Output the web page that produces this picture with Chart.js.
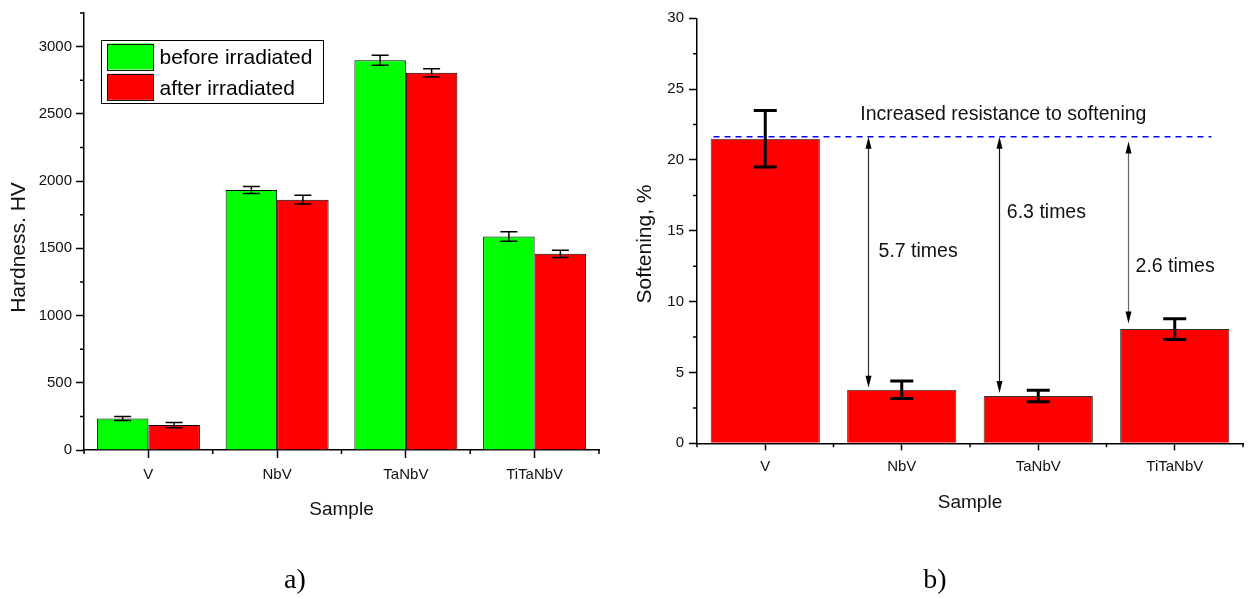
<!DOCTYPE html>
<html><head><meta charset="utf-8">
<script src="https://cdn.jsdelivr.net/npm/chart.js@4"></script>
<style>
html,body{margin:0;padding:0;background:#fff;overflow:hidden}
#wrapA{position:absolute;left:0;top:0;width:625px;height:599px}
#wrapB{position:absolute;left:625px;top:0;width:626px;height:599px}
</style></head><body>
<div id="wrapA"><canvas id="cA" width="625" height="599"></canvas></div>
<div id="wrapB"><canvas id="cB" width="626" height="599"></canvas></div>
<script>
// ---------- data ----------
const categories = ['V', 'NbV', 'TaNbV', 'TiTaNbV'];
const hardnessBefore = [235, 1933, 2899, 1588];
const hardnessBeforeErr = [15, 26, 37, 36];
const hardnessAfter = [185, 1862, 2805, 1459];
const hardnessAfterErr = [20, 33, 31, 27];
const hardnessTicks = [0, 500, 1000, 1500, 2000, 2500, 3000];
const softening = [21.5, 3.78, 3.34, 8.06];
const softeningErr = [2.0, 0.61, 0.41, 0.74];
const softeningTicks = [0, 5, 10, 15, 20, 25, 30];
const resistanceLevel = 21.64;
const ratioLabels = ['5.7 times', '6.3 times', '2.6 times'];
const seriesNames = ['before irradiated', 'after irradiated'];

// annotation placement (in data units: category index, value)
const arrowCat = [0.752, 1.709, 2.661];
const arrowTopVal = [21.64, 21.64, 21.3];
const arrowBotVal = [3.92, 3.55, 8.45];
const ratioTextCat = [0.830, 1.770, 2.713];
const ratioTextVal = [13.14, 15.92, 12.08];

const FONT = "'Liberation Sans', Arial, sans-serif";
Chart.defaults.font.family = FONT;
Chart.defaults.color = '#111';

function axisCommon(tickLen, pad, size) {
  return {
    border: { display: true, color: '#000', width: 1.5 },
    grid: { display: true, drawOnChartArea: false, drawTicks: true, tickLength: tickLen, tickColor: '#000', tickWidth: 1.5, offset: false },
    ticks: { padding: pad, font: { size: size }, color: '#111' }
  };
}
function fixedTicks(list) {
  return s => { s.ticks = list.map(v => ({ value: v })); };
}

const minorTicksPlugin = {
  id: 'minorTicks',
  afterDraw(chart, args, opts) {
    const ctx = chart.ctx, x = chart.scales.x, y = chart.scales.y;
    ctx.save();
    ctx.strokeStyle = '#000'; ctx.lineWidth = 1.5;
    ctx.beginPath();
    for (let v = y.min; v <= y.max + 1e-9; v += opts.yMinor) {
      const r = v / opts.yMajor;
      if (Math.abs(r - Math.round(r)) < 1e-6) continue;
      const py = y.getPixelForValue(v);
      ctx.moveTo(y.right - opts.len, py); ctx.lineTo(y.right, py);
    }
    for (let i = -0.5; i <= categories.length - 0.5 + 1e-9; i += 1) {
      const px = x.getPixelForValue(i);
      ctx.moveTo(px, x.top); ctx.lineTo(px, x.top + opts.len);
    }
    ctx.stroke();
    ctx.restore();
  }
};

const errorBarsPlugin = {
  id: 'errorBars',
  afterDatasetsDraw(chart, args, opts) {
    const ctx = chart.ctx, y = chart.scales.y;
    ctx.save();
    ctx.strokeStyle = '#000'; ctx.lineWidth = opts.width;
    chart.data.datasets.forEach((ds, di) => {
      const meta = chart.getDatasetMeta(di);
      meta.data.forEach((bar, i) => {
        const v = ds.data[i], e = ds.errors[i];
        const t = y.getPixelForValue(v + e), b = y.getPixelForValue(v - e);
        const h = opts.cap / 2;
        ctx.beginPath();
        ctx.moveTo(bar.x, t); ctx.lineTo(bar.x, b);
        ctx.moveTo(bar.x - h, t); ctx.lineTo(bar.x + h, t);
        ctx.moveTo(bar.x - h, b); ctx.lineTo(bar.x + h, b);
        ctx.stroke();
      });
    });
    ctx.restore();
  }
};

const titlesPlugin = {
  id: 'titles',
  afterDraw(chart, args, opts) {
    const ctx = chart.ctx;
    ctx.save();
    ctx.fillStyle = '#111';
    ctx.textAlign = 'center'; ctx.textBaseline = 'middle';
    ctx.font = opts.xSize + 'px ' + FONT;
    ctx.fillText(opts.xText, opts.xPos[0], opts.xPos[1]);
    ctx.save();
    ctx.translate(opts.yPos[0], opts.yPos[1]);
    ctx.rotate(-Math.PI / 2);
    ctx.font = opts.ySize + 'px ' + FONT;
    ctx.fillText(opts.yText, 0, 0);
    ctx.restore();
    ctx.fillStyle = '#000';
    ctx.font = "28px 'Liberation Serif', 'Times New Roman', serif";
    ctx.fillText(opts.panel, opts.panelPos[0], opts.panelPos[1]);
    ctx.restore();
  }
};

const boxLegendPlugin = {
  id: 'boxLegend',
  afterDraw(chart) {
    const ctx = chart.ctx, ca = chart.chartArea;
    const bx = ca.left + 16.5, by = ca.top + 26.5, bw = 222, bh = 63;
    ctx.save();
    ctx.fillStyle = '#fff';
    ctx.fillRect(bx, by, bw, bh);
    ctx.strokeStyle = '#000'; ctx.lineWidth = 1;
    ctx.strokeRect(Math.round(bx) + 0.5, Math.round(by) + 0.5, bw, bh);
    ctx.font = '21px ' + FONT;
    ctx.textAlign = 'left'; ctx.textBaseline = 'alphabetic';
    chart.data.datasets.forEach((ds, k) => {
      const sy = by + 4 + k * 30.3;
      ctx.fillStyle = ds.backgroundColor;
      ctx.fillRect(bx + 6.5, sy, 46, 26);
      ctx.strokeStyle = '#111';
      ctx.strokeRect(Math.round(bx + 6.5) + 0.5, Math.round(sy) + 0.5, 46, 26);
      ctx.fillStyle = '#000';
      ctx.fillText(ds.label, bx + 59, by + 24.8 + k * 30.2);
    });
    ctx.restore();
  }
};

const softAnnotPlugin = {
  id: 'softAnnot',
  afterDatasetsDraw(chart) {
    const ctx = chart.ctx, x = chart.scales.x, y = chart.scales.y;
    ctx.save();
    // dashed reference line
    ctx.strokeStyle = '#0000ff'; ctx.lineWidth = 1.5;
    ctx.setLineDash([6, 5]);
    const ly = y.getPixelForValue(resistanceLevel);
    ctx.beginPath();
    ctx.moveTo(x.getPixelForValue(-0.379), ly);
    ctx.lineTo(x.getPixelForValue(3.269), ly);
    ctx.stroke();
    ctx.setLineDash([]);
    // texts
    ctx.fillStyle = '#111';
    ctx.font = '19.5px ' + FONT;
    ctx.textAlign = 'left'; ctx.textBaseline = 'alphabetic';
    ctx.fillText('Increased resistance to softening', x.getPixelForValue(0.696), y.getPixelForValue(22.84));
    ratioLabels.forEach((t, i) => {
      ctx.fillText(t, x.getPixelForValue(ratioTextCat[i]), y.getPixelForValue(ratioTextVal[i]));
    });
    // double arrows
    const colors = ['#333', '#111', '#666'];
    const hl = 12, hw = 3;
    arrowCat.forEach((c, i) => {
      const px = Math.round(x.getPixelForValue(c)) + 0.5;
      const t = y.getPixelForValue(arrowTopVal[i]);
      const b = y.getPixelForValue(arrowBotVal[i]);
      ctx.strokeStyle = colors[i]; ctx.fillStyle = '#000'; ctx.lineWidth = 1.2;
      ctx.beginPath(); ctx.moveTo(px, t + hl - 2); ctx.lineTo(px, b - hl + 2); ctx.stroke();
      ctx.beginPath(); ctx.moveTo(px, t); ctx.lineTo(px - hw, t + hl); ctx.lineTo(px + hw, t + hl); ctx.closePath(); ctx.fill();
      ctx.beginPath(); ctx.moveTo(px, b); ctx.lineTo(px - hw, b - hl); ctx.lineTo(px + hw, b - hl); ctx.closePath(); ctx.fill();
    });
    ctx.restore();
  }
};

// ---------- chart a ----------
const xA = axisCommon(8, 8, 15);
xA.afterFit = s => { s.height = 149; };
const yA = axisCommon(8, 4, 15);
yA.min = 0; yA.max = 3250;
yA.afterBuildTicks = fixedTicks(hardnessTicks);
yA.ticks.callback = v => String(v);
yA.afterFit = s => { s.width = 84; };

new Chart(document.getElementById('cA'), {
  type: 'bar',
  data: {
    labels: categories,
    datasets: [
      { label: seriesNames[0], data: hardnessBefore, errors: hardnessBeforeErr, backgroundColor: '#00ff00', borderColor: '#000', borderWidth: 1, categoryPercentage: 0.8, barPercentage: 1.0 },
      { label: seriesNames[1], data: hardnessAfter, errors: hardnessAfterErr, backgroundColor: '#ff0000', borderColor: '#000', borderWidth: 1, categoryPercentage: 0.8, barPercentage: 1.0 }
    ]
  },
  options: {
    responsive: false, animation: false, devicePixelRatio: 1,
    layout: { padding: { left: 0, right: 26, top: 11, bottom: 0 } },
    plugins: {
      legend: { display: false }, tooltip: { enabled: false },
      minorTicks: { yMinor: 250, yMajor: 500, len: 4 },
      errorBars: { width: 1.5, cap: 17 },
      titles: { xText: 'Sample', xSize: 19, xPos: [341.5, 510], yText: 'Hardness. HV', ySize: 21, yPos: [19.5, 247.5], panel: 'a)', panelPos: [295, 581] }
    },
    scales: { x: xA, y: yA }
  },
  plugins: [minorTicksPlugin, errorBarsPlugin, titlesPlugin, boxLegendPlugin]
});

// ---------- chart b ----------
const xB = axisCommon(7, 8, 15);
xB.afterFit = s => { s.height = 155.7; };
const yB = axisCommon(8, 5, 15);
yB.min = 0; yB.max = 30;
yB.afterBuildTicks = fixedTicks(softeningTicks);
yB.ticks.callback = v => String(v);
yB.afterFit = s => { s.width = 72; };

new Chart(document.getElementById('cB'), {
  type: 'bar',
  data: {
    labels: categories,
    datasets: [
      { label: 'Softening', data: softening, errors: softeningErr, backgroundColor: '#ff0000', borderColor: '#333', borderWidth: 1, categoryPercentage: 0.8, barPercentage: 1.0 }
    ]
  },
  options: {
    responsive: false, animation: false, devicePixelRatio: 1,
    layout: { padding: { left: 0, right: 8, top: 18.3, bottom: 0 } },
    plugins: {
      legend: { display: false }, tooltip: { enabled: false },
      minorTicks: { yMinor: 2.5, yMajor: 5, len: 4 },
      errorBars: { width: 3, cap: 23 },
      titles: { xText: 'Sample', xSize: 19, xPos: [345, 502.7], yText: 'Softening, %', ySize: 21, yPos: [20, 244], panel: 'b)', panelPos: [310, 581] }
    },
    scales: { x: xB, y: yB }
  },
  plugins: [minorTicksPlugin, errorBarsPlugin, softAnnotPlugin, titlesPlugin]
});
</script>
</body></html>
